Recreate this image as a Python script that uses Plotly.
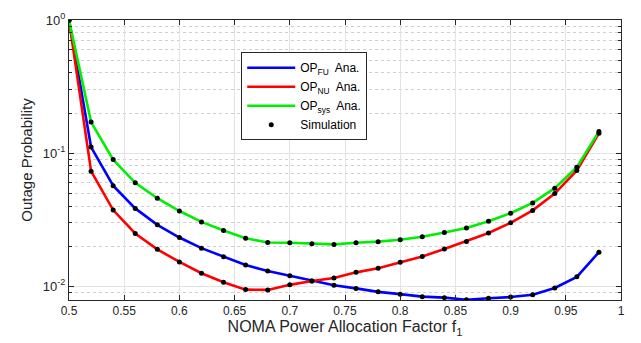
import plotly.graph_objects as go

# Power allocation factor f1
f1 = [0.50, 0.52, 0.54, 0.56, 0.58, 0.60, 0.62, 0.64, 0.66, 0.68, 0.70, 0.72, 0.74,
      0.76, 0.78, 0.80, 0.82, 0.84, 0.86, 0.88, 0.90, 0.92, 0.94, 0.96, 0.98]

# Outage probability of the far user (analysis)
op_fu = [1.0, 0.111, 0.0569, 0.0384, 0.0289, 0.0232, 0.0193, 0.0166, 0.0144, 0.0130, 0.01196,
         0.01094, 0.01015, 0.00962, 0.00906, 0.00871, 0.00834, 0.00820, 0.00790, 0.00811,
         0.00828, 0.00862, 0.00969, 0.01175, 0.0180]

# Outage probability of the near user (analysis)
op_nu = [1.0, 0.0731, 0.0373, 0.0249, 0.0189, 0.0152, 0.0125, 0.0107, 0.00942, 0.00937,
         0.01023, 0.01094, 0.0115, 0.0127, 0.01365, 0.0151, 0.0167, 0.0190, 0.0217, 0.0251,
         0.0299, 0.0371, 0.0496, 0.0740, 0.141]

# System outage probability (analysis)
op_sys = [1.0, 0.171, 0.0893, 0.0598, 0.0458, 0.0367, 0.0304, 0.0262, 0.0229, 0.0213, 0.0212,
          0.0208, 0.0206, 0.0212, 0.0216, 0.0223, 0.0235, 0.0253, 0.0274, 0.0307, 0.0353,
          0.0422, 0.0545, 0.0782, 0.145]

x_ticks = [0.5, 0.55, 0.6, 0.65, 0.7, 0.75, 0.8, 0.85, 0.9, 0.95, 1]
x_tick_text = ["0.5", "0.55", "0.6", "0.65", "0.7", "0.75", "0.8", "0.85", "0.9", "0.95", "1"]
y_ticks = [1, 0.1, 0.01]
y_tick_text = ["10<sup>0</sup>", "10<sup>-1</sup>", "10<sup>-2</sup>"]
y_minor = [m * d for d in (0.01, 0.1) for m in range(2, 10)] + [0.008, 0.009]

FONT = "Liberation Sans, Arial, Helvetica, sans-serif"
AXIS = "#262626"

fig = go.Figure()

analysis = [
    ("OP<sub>FU</sub>  Ana.", op_fu, "#0000ff"),
    ("OP<sub>NU</sub>  Ana.", op_nu, "#ff0000"),
    ("OP<sub>sys</sub>  Ana.", op_sys, "#00ee00"),
]
for name, ys, color in analysis:
    fig.add_trace(go.Scatter(x=f1, y=ys, mode="lines", name=name,
                             line=dict(color=color, width=2.6)))

# Simulation points drawn on top of each analytical curve
for i, (_, ys, _) in enumerate(analysis):
    fig.add_trace(go.Scatter(x=f1, y=ys, mode="markers", name="Simulation",
                             legendgroup="sim", showlegend=(i == 0),
                             marker=dict(color="black", size=5)))

fig.update_layout(
    width=641, height=343,
    margin=dict(l=69, r=20, t=11, b=41),
    paper_bgcolor="white", plot_bgcolor="white",
    font=dict(family=FONT, size=12, color=AXIS),
    showlegend=True,
    legend=dict(x=0.312, y=0.885, xanchor="left", yanchor="top",
                bgcolor="white", bordercolor=AXIS, borderwidth=1,
                font=dict(family=FONT, size=12, color="black"),
                tracegroupgap=0, itemwidth=48),
)

fig.update_xaxes(
    range=[0.5, 1], tickvals=x_ticks, ticktext=x_tick_text,
    tickfont=dict(size=12),
    showline=True, linecolor=AXIS, linewidth=1, mirror="ticks",
    ticks="inside", ticklen=5, tickcolor=AXIS,
    showgrid=True, gridcolor="#e3e3e3", gridwidth=1, zeroline=False,
    title=dict(text="NOMA Power Allocation Factor f<sub>1</sub>",
               font=dict(family=FONT, size=16, color=AXIS), standoff=2),
)

fig.update_yaxes(
    type="log", range=[-2.104, 0], tickvals=y_ticks, ticktext=y_tick_text,
    tickfont=dict(size=13),
    showline=True, linecolor=AXIS, linewidth=1, mirror="ticks",
    ticks="inside", ticklen=5, tickcolor=AXIS,
    showgrid=True, gridcolor="#e3e3e3", gridwidth=1, zeroline=False,
    minor=dict(tickvals=y_minor, ticks="inside", ticklen=3, tickcolor=AXIS,
               showgrid=True, gridcolor="#cfcfcf", griddash="dot", gridwidth=1),
    title=dict(text="Outage Probability",
               font=dict(family=FONT, size=15, color=AXIS), standoff=6),
)

fig.write_html("out.html")
